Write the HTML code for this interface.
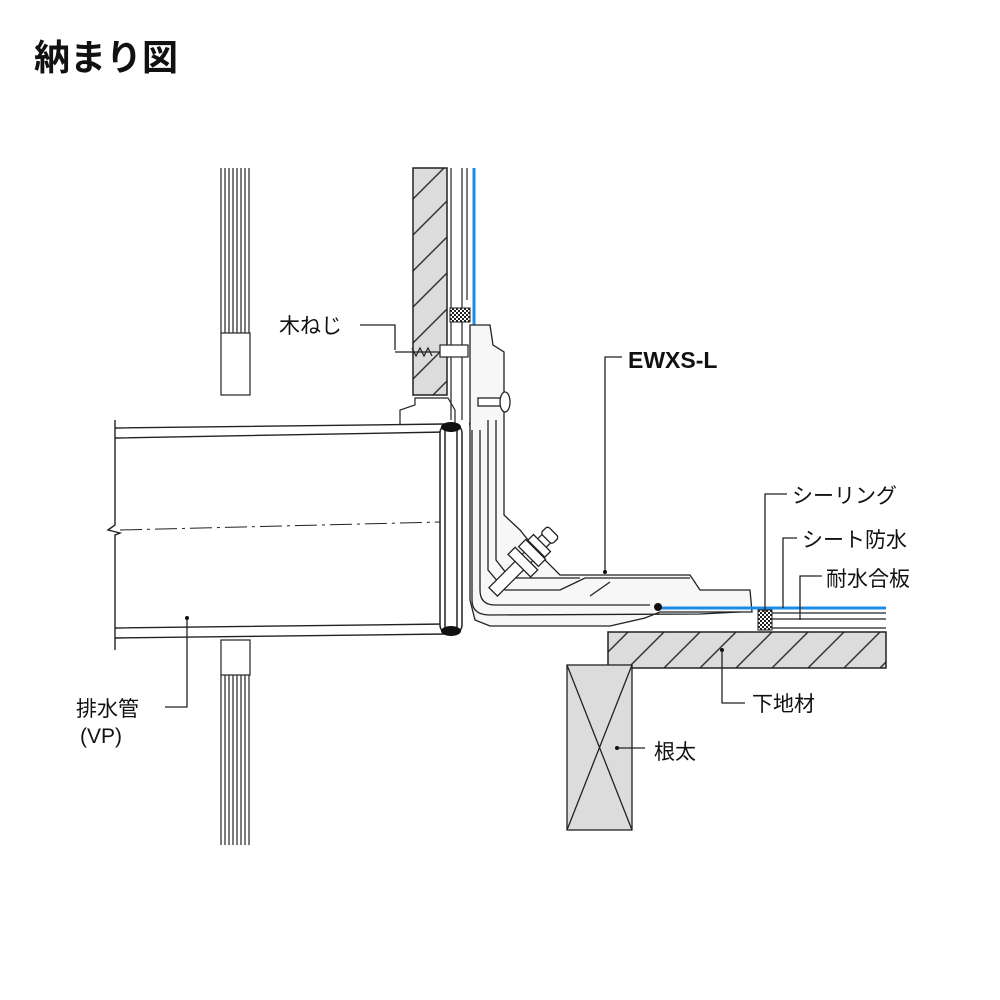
<!DOCTYPE html>
<html><head><meta charset="utf-8"><style>
html,body{margin:0;padding:0;background:#fff;}
svg{display:block}
text{font-family:"Liberation Sans","Noto Sans CJK JP",sans-serif;fill:#111}
</style></head><body>
<svg width="1000" height="1000" viewBox="0 0 1000 1000" xmlns="http://www.w3.org/2000/svg">
<defs>
<pattern id="hatch" patternUnits="userSpaceOnUse" width="36" height="36">
<rect width="36" height="36" fill="#dcdcdc"/>
<path d="M-9,45 L45,-9 M-27,27 L27,-27 M9,63 L63,9" stroke="#333" stroke-width="1.5"/>
</pattern>
<pattern id="check" patternUnits="userSpaceOnUse" width="4" height="4">
<rect width="4" height="4" fill="#fff"/><rect width="2" height="2" fill="#222"/><rect x="2" y="2" width="2" height="2" fill="#222"/>
</pattern>
</defs>
<text x="34" y="70" font-size="36" font-weight="bold">納まり図</text>

<g stroke="#222" stroke-width="1.2" fill="none">
<path d="M221,168V333 M225,168V333 M229,168V333 M233,168V333 M237,168V333 M241,168V333 M245,168V333 M249,168V333"/>
<rect x="221" y="333" width="29" height="62" fill="#fff"/>
<rect x="221" y="640" width="29" height="35" fill="#fff"/>
<path d="M221,675V845 M225,675V845 M229,675V845 M233,675V845 M237,675V845 M241,675V845 M245,675V845 M249,675V845"/>
</g>

<g stroke="#222" stroke-width="1.4" fill="none">
<path d="M115,428 L445,424 M115,438 L445,432"/>
<path d="M115,628 L445,624 M115,638 L445,634"/>
<path d="M115,420 V525 L108,530 L120,533 L115,535 V650"/>
<path d="M120,530 L440,522" stroke-dasharray="22,5,3,5" stroke-width="1"/>
</g>

<rect x="413" y="168" width="34" height="227" fill="url(#hatch)" stroke="#222" stroke-width="1.5"/>
<g stroke="#222" stroke-width="1.2" fill="none">
<path d="M451,168V420 M462,168V420 M467,168V300"/>
<path d="M400,425 V410 L415,405 V398 L448,398 L455,410 V425"/>
</g>
<rect x="450" y="308" width="20" height="14" fill="url(#check)" stroke="#222"/>
<path d="M474,168 V425" stroke="#1e8be6" stroke-width="3"/>
<g stroke="#222" stroke-width="1.2" fill="#fff">
<path d="M395,352 L440,352"/>
<rect x="440" y="345" width="28" height="12"/>
<path d="M412,348 l4,8 l4,-8 l4,8 l4,-8 l4,8" fill="none"/>
</g>
<g stroke="#222" stroke-width="1.5" fill="#fff">
<rect x="440" y="424" width="22" height="210" rx="9"/>
<path d="M445,428 V630 M457,428 V630" fill="none"/>
</g>
<ellipse cx="451" cy="427" rx="10" ry="5" fill="#111"/>
<ellipse cx="451" cy="631" rx="10" ry="5" fill="#111"/>
<circle cx="473" cy="424" r="4" fill="#111"/>
<g stroke="#222" stroke-width="1.3" fill="#fff">
<path d="M470,325 L490,325 L493,345 L504,352 V515 L520,530 L540,555 L560,575 L690,575 L700,590 L750,590 L752,612 L660,612 L645,618 L610,626 L490,626 L475,620 L470,600 Z" fill="#f7f7f7"/>
<path d="M472,430 V600 Q472,615 490,615 L700,614 L740,612" fill="none"/>
<path d="M480,430 V590 Q480,605 495,605 L650,605" fill="none"/>
<path d="M488,420 V570 L505,590 L560,590" fill="none"/>
<path d="M496,420 V560 L510,578 L580,578" fill="none"/>
<rect x="478" y="398" width="26" height="8"/>
<ellipse cx="505" cy="402" rx="5" ry="10"/>
<path d="M560,590 L585,578 L690,578 M590,596 L610,582" fill="none"/>
</g>
<g transform="translate(525,560) rotate(-45)" stroke="#222" stroke-width="1.3" fill="#fff">
<rect x="-45" y="-6" width="80" height="12"/>
<rect x="-8" y="-16" width="10" height="32"/>
<rect x="5" y="-14" width="10" height="28"/>
<rect x="16" y="-12" width="8" height="24"/>
<rect x="30" y="-8" width="10" height="16" rx="3"/>
</g>
<rect x="608" y="632" width="278" height="36" fill="url(#hatch)" stroke="#222" stroke-width="1.5"/>
<path d="M655,608 H886" stroke="#1e8be6" stroke-width="3"/>
<g stroke="#222" stroke-width="1.2" fill="none">
<path d="M770,613 H886 M770,619 H886 M770,628 H886"/>
</g>
<rect x="758" y="610" width="14" height="20" fill="url(#check)" stroke="#222"/>
<circle cx="658" cy="607" r="4" fill="#111"/>
<g stroke="#222" stroke-width="1.3">
<rect x="567" y="665" width="65" height="165" fill="#dcdcdc"/>
<path d="M567,665 L632,830 M632,665 L567,830" fill="none"/>
</g>

<g stroke="#222" stroke-width="1.3" fill="none">
<path d="M360,325 H395 V350"/>
<path d="M622,357 H605 V572"/>
<path d="M787,494 H765 V612"/>
<path d="M797,538 H783 V608"/>
<path d="M822,576 H800 V620"/>
<path d="M722,650 V703 H745"/>
<path d="M617,748 H645"/>
<path d="M165,707 H187 V618"/>
</g>
<g fill="#111"><circle cx="187" cy="618" r="2"/><circle cx="617" cy="748" r="2"/><circle cx="722" cy="650" r="2"/><circle cx="605" cy="572" r="2"/></g>
<g font-size="21">
<text x="279" y="333">木ねじ</text>
<text x="628" y="368" font-weight="bold" font-size="23">EWXS-L</text>
<text x="792" y="503">シーリング</text>
<text x="802" y="547">シート防水</text>
<text x="826" y="586">耐水合板</text>
<text x="752" y="711">下地材</text>
<text x="654" y="759">根太</text>
<text x="76" y="716">排水管</text>
<text x="80" y="743">(VP)</text>
</g>
</svg>
</body></html>
